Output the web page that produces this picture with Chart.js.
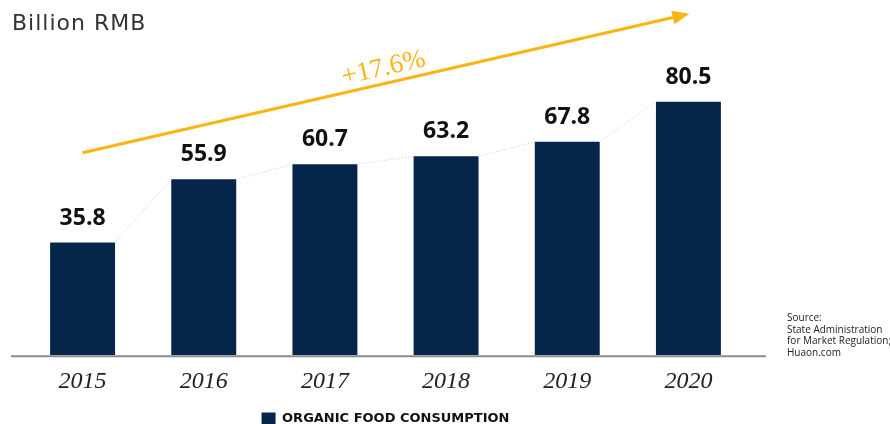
<!DOCTYPE html>
<html>
<head>
<meta charset="utf-8">
<script src="https://cdn.jsdelivr.net/npm/chart.js@4.4.0/dist/chart.umd.min.js"></script>
<style>
  html, body { margin: 0; padding: 0; background: #ffffff; }
  #wrap { width: 890px; height: 424px; }
</style>
</head>
<body>
<div id="wrap"><canvas id="c" width="890" height="424"></canvas></div>
<script>
const categories = ['2015', '2016', '2017', '2018', '2019', '2020'];
const consumption = [35.8, 55.9, 60.7, 63.2, 67.8, 80.5];
const seriesName = 'ORGANIC FOOD CONSUMPTION';
const unitLabel = 'Billion RMB';
const growthLabel = '+17.6%';
const growthFrom = 64.3;   // arrow start level (axis units)
const growthTo = 108.5;    // arrow tip level (axis units)
const sourceLines = ['Source:', 'State Administration', 'for Market Regulation;', 'Huaon.com'];

const NAVY = '#05264a';
const GOLD = '#fbb413';

const decorPlugin = {
  id: 'decor',
  afterDatasetsDraw(chart) {
    const ctx = chart.ctx;
    const meta = chart.getDatasetMeta(0);
    const y = chart.scales.y;
    const area = chart.chartArea;
    ctx.save();
    // dotted connector lines
    ctx.strokeStyle = '#c9ccd2';
    ctx.lineWidth = 1;
    ctx.setLineDash([1, 2]);
    for (let i = 0; i < meta.data.length - 1; i++) {
      const a = meta.data[i], b = meta.data[i + 1];
      ctx.beginPath();
      ctx.moveTo(a.x + a.width / 2, a.y);
      ctx.lineTo(b.x - b.width / 2, b.y);
      ctx.stroke();
    }
    ctx.setLineDash([]);
    // baseline
    ctx.strokeStyle = '#8c8c8c';
    ctx.lineWidth = 2;
    ctx.beginPath();
    ctx.moveTo(11, area.bottom + 1);
    ctx.lineTo(766, area.bottom + 1);
    ctx.stroke();
    // value labels
    ctx.fillStyle = '#111111';
    ctx.font = 'bold 23px "Open Sans"';
    ctx.textAlign = 'center';
    ctx.textBaseline = 'alphabetic';
    meta.data.forEach((bar, i) => {
      ctx.fillText(consumption[i].toFixed(1), bar.x, bar.y - 18);
    });
    // growth arrow
    const x0 = meta.data[0].x, y0 = y.getPixelForValue(growthFrom);
    const x1 = meta.data[meta.data.length - 1].x + 1, y1 = y.getPixelForValue(growthTo);
    const ang = Math.atan2(y1 - y0, x1 - x0);
    const headLen = 17, headW = 7;
    const bx = x1 - headLen * Math.cos(ang), by = y1 - headLen * Math.sin(ang);
    ctx.strokeStyle = GOLD;
    ctx.fillStyle = GOLD;
    ctx.lineWidth = 3;
    ctx.beginPath();
    ctx.moveTo(x0, y0);
    ctx.lineTo(bx, by);
    ctx.stroke();
    ctx.beginPath();
    ctx.moveTo(x1, y1);
    ctx.lineTo(bx + headW * Math.sin(ang), by - headW * Math.cos(ang));
    ctx.lineTo(bx - headW * Math.sin(ang), by + headW * Math.cos(ang));
    ctx.closePath();
    ctx.fill();
    // growth label
    const mx = 387, my = y0 + (mx - x0) * Math.tan(ang);
    ctx.translate(mx, my);
    ctx.rotate(ang);
    ctx.font = '27px "Liberation Serif"';
    ctx.textBaseline = 'alphabetic';
    ctx.fillText(growthLabel, 0, -8);
    ctx.restore();
    // unit label
    ctx.save();
    ctx.fillStyle = '#333333';
    ctx.font = '22px "DejaVu Sans"';
    ctx.letterSpacing = '1px';
    ctx.textAlign = 'left';
    ctx.textBaseline = 'alphabetic';
    ctx.fillText(unitLabel, 12, 30);
    ctx.letterSpacing = '0px';
    // source
    ctx.fillStyle = '#222222';
    ctx.font = '10px "Open Sans"';
    sourceLines.forEach((t, i) => ctx.fillText(t, 787, 321 + i * 11.5));
    ctx.restore();
  }
};

new Chart(document.getElementById('c'), {
  type: 'bar',
  data: {
    labels: categories,
    datasets: [{
      label: seriesName,
      data: consumption,
      backgroundColor: NAVY,
      borderWidth: 0,
      categoryPercentage: 1,
      barPercentage: 0.536
    }]
  },
  options: {
    responsive: false,
    animation: false,
    layout: { padding: { left: 22, right: 141, top: 9, bottom: -11 } },
    plugins: {
      tooltip: { enabled: false },
      legend: {
        display: true,
        position: 'bottom',
        labels: {
          boxWidth: 14,
          boxHeight: 12,
          padding: 4,
          color: '#111111',
          font: { family: '"DejaVu Sans"', size: 13, weight: 'bold' }
        }
      }
    },
    scales: {
      x: {
        grid: { display: false, drawTicks: false },
        border: { display: false },
        ticks: {
          padding: 12,
          color: '#222222',
          font: { family: '"Liberation Serif"', size: 24, style: 'italic' }
        }
      },
      y: {
        display: false,
        min: 0,
        max: 110
      }
    }
  },
  plugins: [decorPlugin]
});
</script>
</body>
</html>
